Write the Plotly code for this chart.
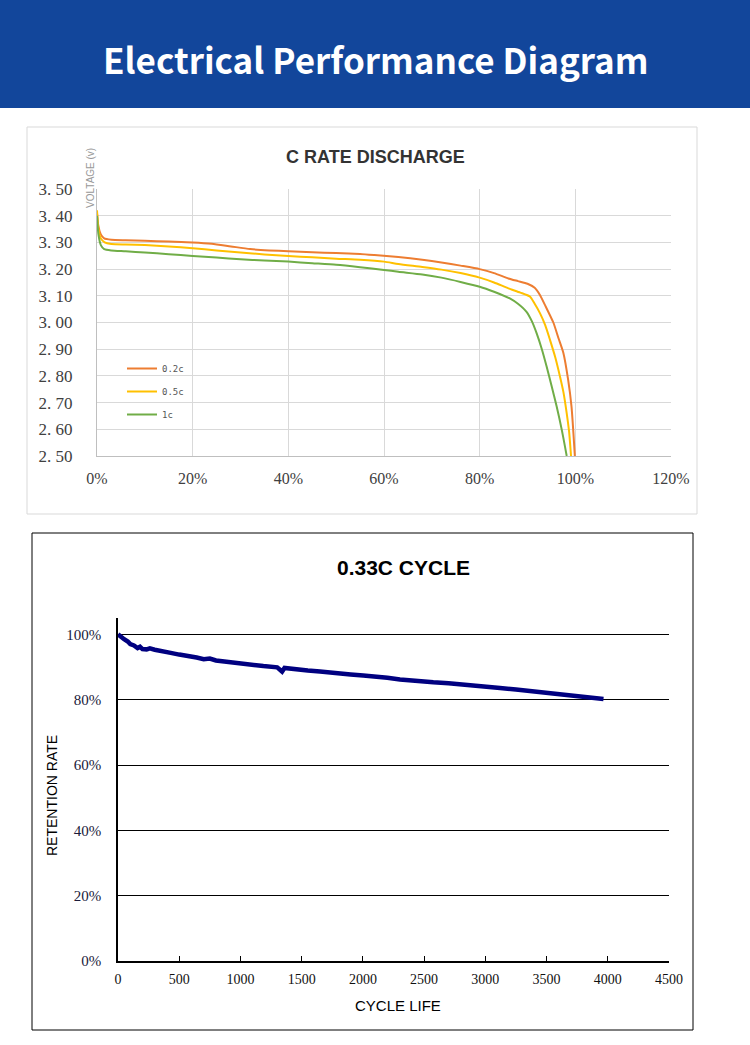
import plotly.graph_objects as go

W, H = 750, 1045

# ---- C rate discharge data (capacity %, voltage V) ----
orange_x = [0, 0.3, 0.8, 1.5, 3, 6, 10, 15, 20, 24, 28, 32, 36, 40, 45, 50, 55, 58, 63, 68, 72, 76, 80, 83, 86, 88, 90, 91.5, 92.6, 93.8, 95.4, 96.5, 97.5, 98.5, 99.2, 99.9]
orange_y = [3.41, 3.36, 3.33, 3.315, 3.31, 3.308, 3.306, 3.303, 3.30, 3.295, 3.285, 3.275, 3.27, 3.267, 3.263, 3.26, 3.257, 3.253, 3.245, 3.235, 3.225, 3.213, 3.20, 3.185, 3.165, 3.155, 3.145, 3.13, 3.103, 3.06, 3.00, 2.94, 2.886, 2.785, 2.685, 2.50]
yellow_x = [0, 0.3, 0.8, 1.6, 3, 6, 10, 15, 20, 25, 30, 35, 40, 45, 50, 55, 60, 63, 68, 72, 76, 80, 83, 86, 88.5, 90.5, 91.5, 92.6, 93.7, 94.7, 95.8, 96.8, 97.5, 98.2, 98.7, 99.1]
yellow_y = [3.42, 3.35, 3.315, 3.30, 3.294, 3.292, 3.29, 3.285, 3.278, 3.27, 3.262, 3.255, 3.249, 3.244, 3.239, 3.235, 3.228, 3.219, 3.208, 3.198, 3.185, 3.168, 3.15, 3.128, 3.112, 3.097, 3.07, 3.035, 2.99, 2.935, 2.87, 2.797, 2.74, 2.66, 2.59, 2.50]
green_x = [0, 0.3, 0.8, 1.5, 3, 6, 10, 15, 20, 25, 30, 35, 40, 45, 50, 55, 60, 63, 68, 72, 76, 80, 83, 86.3, 88, 89.8, 90.9, 91.9, 93, 94, 95, 96.1, 97.2, 98.2]
green_y = [3.40, 3.33, 3.29, 3.275, 3.27, 3.267, 3.262, 3.256, 3.249, 3.243, 3.237, 3.232, 3.228, 3.222, 3.216, 3.207, 3.197, 3.19, 3.18, 3.168, 3.152, 3.134, 3.115, 3.09, 3.07, 3.04, 3.005, 2.96, 2.90, 2.835, 2.765, 2.685, 2.595, 2.50]
series_names = ["0.2c", "0.5c", "1c"]
series_colors = ["#ED7D31", "#FFC000", "#70AD47"]

v_tickvals = [2.5, 2.6, 2.7, 2.8, 2.9, 3.0, 3.1, 3.2, 3.3, 3.4, 3.5]
v_ticktext = ["2. 50", "2. 60", "2. 70", "2. 80", "2. 90", "3. 00", "3. 10", "3. 20", "3. 30", "3. 40", "3. 50"]
cap_tickvals = [0, 0.2, 0.4, 0.6, 0.8, 1.0, 1.2]

# ---- 0.33C cycle data (cycles, retention %) ----
cycles = [0, 20, 50, 80, 100, 130, 160, 180, 200, 234, 260, 300, 370, 420, 500, 550, 642, 700, 750, 800, 914, 1000, 1100, 1187, 1300, 1340, 1360, 1400, 1459, 1550, 1650, 1731, 1850, 1900, 2003, 2100, 2200, 2303, 2400, 2500, 2575, 2700, 2850, 3000, 3120, 3250, 3400, 3500, 3665, 3800, 3900, 3965]
retention = [100, 99.3, 98.5, 97.8, 97.0, 96.6, 95.8, 96.2, 95.5, 95.4, 95.7, 95.3, 94.9, 94.4, 93.8, 93.6, 92.9, 92.4, 92.6, 92.0, 91.4, 91.0, 90.7, 90.3, 89.9, 88.6, 89.7, 89.6, 89.2, 88.9, 88.6, 88.2, 87.9, 87.7, 87.4, 87.2, 86.7, 86.2, 86.0, 85.6, 85.3, 85.0, 84.6, 84.1, 83.6, 83.1, 82.5, 82.1, 81.4, 80.9, 80.5, 80.2]
r_tickvals = [0, 20, 40, 60, 80, 100]
r_ticktext = ["0%", "20%", "40%", "60%", "80%", "100%"]
c_tickvals = [0, 500, 1000, 1500, 2000, 2500, 3000, 3500, 4000, 4500]


def px(x):
    return x / W


def py(y):
    return 1 - y / H


fig = go.Figure()

for xs, ys, name, col in zip([orange_x, yellow_x, green_x], [orange_y, yellow_y, green_y], series_names, series_colors):
    fig.add_trace(go.Scatter(
        x=[v / 100 for v in xs], y=ys, name=name, mode="lines",
        line=dict(color=col, width=2, shape="spline", smoothing=0.6),
        xaxis="x", yaxis="y", legendgroup=name, showlegend=True,
    ))

fig.add_trace(go.Scatter(
    x=cycles, y=retention, mode="lines", name="retention",
    line=dict(color="#000080", width=4.5),
    xaxis="x2", yaxis="y2", showlegend=False,
))

serif = "Liberation Serif, DejaVu Serif, serif"
sans = "Liberation Sans, Arial, sans-serif"

fig.update_layout(
    width=W, height=H,
    margin=dict(l=0, r=0, t=0, b=0, pad=0, autoexpand=False),
    paper_bgcolor="white", plot_bgcolor="white",
    xaxis=dict(
        domain=[px(97), px(671)], range=[0, 1.2], tickvals=cap_tickvals, tickformat=".0%",
        showgrid=True, gridcolor="#d9d9d9", gridwidth=1, automargin=False,
        showline=True, linecolor="#bfbfbf", linewidth=1, zeroline=False, ticks="",
        tickfont=dict(family=serif, size=16, color="#404040"), ticklabelstandoff=8,
        anchor="y", fixedrange=True,
    ),
    yaxis=dict(
        domain=[py(456), py(189)], range=[2.5, 3.5], tickvals=v_tickvals, ticktext=v_ticktext,
        showgrid=True, gridcolor="#d9d9d9", gridwidth=1, automargin=False,
        showline=True, linecolor="#bfbfbf", linewidth=1, zeroline=False, ticks="",
        tickfont=dict(family=serif, size=17, color="#404040"), ticklabelstandoff=20,
        anchor="x", fixedrange=True,
    ),
    xaxis2=dict(
        domain=[px(118), px(669)], range=[0, 4500], tickvals=c_tickvals, automargin=False,
        showgrid=False, showline=True, linecolor="black", linewidth=1.5, zeroline=False,
        ticks="inside", ticklen=5, tickcolor="black",
        tickfont=dict(family=serif, size=14, color="#111"), ticklabelstandoff=4,
        anchor="y2", fixedrange=True,
    ),
    yaxis2=dict(
        domain=[py(961), py(618)], range=[0, 105], tickvals=r_tickvals, ticktext=r_ticktext,
        showgrid=True, gridcolor="black", gridwidth=1, automargin=False,
        showline=True, linecolor="black", linewidth=1.5, zeroline=False, ticks="",
        tickfont=dict(family=serif, size=15, color="#1a1a3a"), ticklabelstandoff=12,
        anchor="x2", fixedrange=True,
    ),
    legend=dict(
        x=px(122), y=py(354), xanchor="left", yanchor="top",
        bgcolor="rgba(0,0,0,0)", font=dict(family="DejaVu Sans Mono, monospace", size=9, color="#555"),
        tracegroupgap=4, itemwidth=30,
    ),
    showlegend=True,
)

shapes = [
    dict(type="rect", xref="paper", yref="paper", x0=0, x1=1, y0=py(108), y1=1,
         fillcolor="#12469B", line=dict(width=0), layer="below"),
    dict(type="rect", xref="paper", yref="paper", x0=px(27), x1=px(697), y0=py(514), y1=py(127),
         fillcolor="rgba(0,0,0,0)", line=dict(color="#d9d9d9", width=1)),
    dict(type="rect", xref="paper", yref="paper", x0=px(32), x1=px(693), y0=py(1030), y1=py(533),
         fillcolor="rgba(0,0,0,0)", line=dict(color="black", width=1)),
]
fig.update_layout(shapes=shapes)

annotations = [
    dict(text="<b>Electrical Performance Diagram</b>", x=0.5, y=py(58), xref="paper", yref="paper",
         showarrow=False, xanchor="center", yanchor="middle",
         font=dict(family="Noto Sans CJK SC, Noto Sans, sans-serif", size=35, color="white")),
    dict(text="<b>C RATE DISCHARGE</b>", x=px(375), y=py(157), xref="paper", yref="paper",
         showarrow=False, xanchor="center", yanchor="middle",
         font=dict(family=sans, size=18, color="#333333")),
    dict(text="VOLTAGE (v)", x=px(90), y=py(178), xref="paper", yref="paper", textangle=-90,
         showarrow=False, xanchor="center", yanchor="middle",
         font=dict(family=sans, size=10, color="#999999")),
    dict(text="<b>0.33C CYCLE</b>", x=px(404), y=py(567), xref="paper", yref="paper",
         showarrow=False, xanchor="center", yanchor="middle",
         font=dict(family=sans, size=21, color="black")),
    dict(text="RETENTION RATE", x=px(52), y=py(796), xref="paper", yref="paper", textangle=-90,
         showarrow=False, xanchor="center", yanchor="middle",
         font=dict(family=sans, size=14, color="black")),
    dict(text="CYCLE LIFE", x=px(398), y=py(1005), xref="paper", yref="paper",
         showarrow=False, xanchor="center", yanchor="middle",
         font=dict(family=sans, size=15, color="black")),
]
fig.update_layout(annotations=annotations)

fig.write_html(
    "out.html",
    config={"displayModeBar": False},
    post_script="document.body.style.margin='0';document.body.style.padding='0';",
)
